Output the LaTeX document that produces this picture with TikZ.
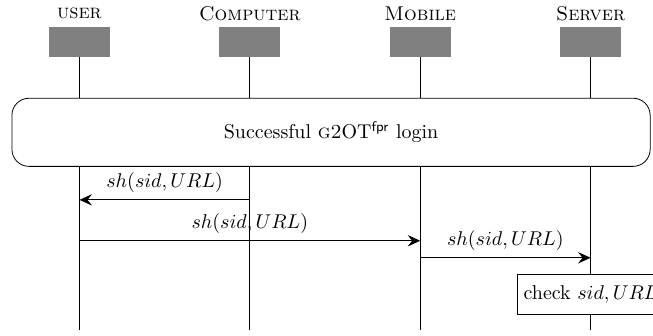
\documentclass[tikz,border=0pt]{standalone}
\usepackage{amsmath}
\usepackage{tikz}
\usetikzlibrary{arrows.meta}
\usetikzlibrary{calc}
\tikzstyle{head} = [fill=gray,
	minimum width = 1.07cm,
	minimum height = 0.53cm,
	inner sep = 0pt]
\tikzstyle{arrow} =[-{Stealth[length=2.2mm, width=2mm, inset=0.8mm]}]
\tikzstyle{phase} = [draw, fill=white,
	rounded corners = 0.3cm,
	minimum width = 11.24cm,
	minimum height = 1.2cm]
\tikzstyle{check} = [draw, fill=white, minimum height = 0.7cm]
\newcommand{\drawparty}[3]{\node (#1) [head] at (#2, -0.74) {};
	\node (#1label) at (#2, -0.24) {\textsc{#3}};
	\coordinate (#1end) at (#2, -5.81);
	\draw (#1) -- (#1end)}

\begin{document}
\begin{tikzpicture}
			\useasboundingbox (0,0) rectangle (11.5,-5.9);
			\drawparty{user}{1.4}{user};
			\drawparty{computer}{4.4}{Computer};
			\drawparty{mobile}{7.4}{Mobile};
			\drawparty{server}{10.4}{Server};
			
			\node (login)[phase] at (5.83, -2.33) {Successful \textsc{g2}OT\textsuperscript{\sffamily fpr} login};
			
			\coordinate (c1) at ($ (computer) + (0, -2.78) $);
			\coordinate (u1) at ($ (user) + (0, -2.78) $);
			\draw [arrow] (c1) -- (u1) node [midway, above] {$sh(sid, URL)$};
			
			\coordinate (u2) at ($ (user) + (0, -3.5) $);
			\coordinate (m2) at ($ (mobile) + (0, -3.5) $);
			\draw [arrow] (u2) -- (m2) node [midway, above] {$sh(sid, URL)$};
			
			\coordinate (m3) at ($ (mobile) + (0, -3.8) $);
			\coordinate (s3) at ($ (server) + (0, -3.8) $);
			\draw [arrow] (m3) -- (s3) node [midway, above] {$sh(sid, URL)$};
			
			\node (check)[check] at (10.4, -5.19) {check $sid, URL$};
		\end{tikzpicture}
\end{document}
